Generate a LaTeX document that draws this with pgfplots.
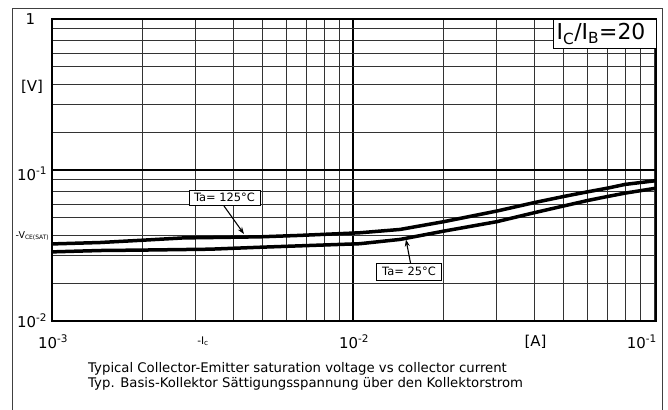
\documentclass[border=0pt]{standalone}
\usepackage{fontspec}
\setmainfont{DejaVu Sans}
\usepackage{pgfplots}
\pgfplotsset{compat=1.18}
\usetikzlibrary{arrows.meta}
\begin{document}
\begin{tikzpicture}
\begin{axis}[
  scale only axis, width=603.7bp, height=302bp,
  xmode=log, ymode=log,
  xmin=1e-3, xmax=0.1013, ymin=1e-2, ymax=1,
  xtick={1e-3,1e-2}, ytick={1e-2,1e-1,1},
  minor xtick={2e-3,3e-3,4e-3,5e-3,6e-3,7e-3,8e-3,9e-3,2e-2,3e-2,4e-2,5e-2,6e-2,7e-2,8e-2,9e-2,1e-1},
  minor ytick={0.0178,0.027,0.0368,0.0483,0.0595,0.072,0.086,0.178,0.27,0.368,0.483,0.595,0.72,0.86},
  xticklabels={}, yticklabels={},
  grid=both,
  major grid style={line width=1.8bp, black},
  minor grid style={line width=0.9bp, black!80},
  axis line style={line width=2.2bp, black},
  major tick length=0pt, minor tick length=0pt,
]
% Ta = 125 C
\addplot[line width=3.5bp, black] coordinates {
  (1e-3,0.0324) (1.44e-3,0.0331) (2e-3,0.0343) (2.72e-3,0.0355) (4.9e-3,0.0361)
  (6.65e-3,0.0369) (1.05e-2,0.0384) (1.43e-2,0.0404) (2e-2,0.0455) (3e-2,0.0535)
  (4e-2,0.0609) (5e-2,0.0668) (6e-2,0.0717) (7e-2,0.0759) (8e-2,0.0803) (0.1013,0.0850)
};
% Ta = 25 C
\addplot[line width=3.5bp, black] coordinates {
  (1e-3,0.0287) (1.44e-3,0.0293) (2e-3,0.0295) (3.34e-3,0.0299) (4.9e-3,0.0308)
  (1.05e-2,0.0325) (1.43e-2,0.0347) (2e-2,0.0394) (3e-2,0.0455) (4e-2,0.0522)
  (5e-2,0.0578) (6e-2,0.0628) (7e-2,0.0668) (8e-2,0.0703) (0.1013,0.0758)
};
\end{axis}
\pgfresetboundingbox
\begin{scope}[shift={(-52.3bp,321bp)}, x=1bp, y=-1bp]
  \path[use as bounding box] (0,0) rectangle (668,409);
  \draw[line width=1.3bp, black!75] (12.5,420) -- (12.5,8.5) -- (662.5,8.5) -- (662.5,420);
  % ratio box
  \draw[line width=1bp, fill=white] (553,19) rectangle (656,48.3);
  \node[inner sep=0pt, font=\fontsize{22}{24}\selectfont] at (601,34)
    {I\textsubscript{C}/I\textsubscript{B}=20};
  % y labels
  \begin{scope}[every node/.style={inner sep=0pt, font=\fontsize{15}{17}\selectfont}]
    \node[anchor=base] at (30.5,24) {1};
    \node[anchor=base west] at (17,180) {10\textsuperscript{-1}};
    \node[anchor=base west] at (17,327) {10\textsuperscript{-2}};
    \node[anchor=base] at (32,91) {[V]};
    \node[anchor=base west] at (38,348) {10\textsuperscript{-3}};
    \node[anchor=base west] at (339,348) {10\textsuperscript{-2}};
    \node[anchor=base east] at (657,348) {10\textsuperscript{-1}};
    \node[anchor=base] at (535.5,346) {[A]};
  \end{scope}
  \node[inner sep=0pt, anchor=base, font=\fontsize{10.5}{12}\selectfont] at (203,344) {-I\textsubscript{c}};
  \node[inner sep=0pt, anchor=base, font=\fontsize{9.5}{11}\selectfont] at (32.5,238)
    {-V\textsubscript{\fontsize{6}{7}\selectfont CE(SAT)}};
  % temperature labels
  \draw[line width=0.9bp, fill=white] (189,190) rectangle (260,205);
  \node[inner sep=0pt, font=\fontsize{11.5}{13}\selectfont] at (224.5,197.8) {Ta= 125°C};
  \draw[line width=1.1bp, -{Stealth[length=7bp,width=5bp]}] (224,206) -- (244,234);
  \draw[line width=0.9bp, fill=white] (376,263.3) rectangle (441.7,280);
  \node[inner sep=0pt, font=\fontsize{11.5}{13}\selectfont] at (409,271.8) {Ta= 25°C};
  \draw[line width=1.1bp, -{Stealth[length=7bp,width=5bp]}] (410.5,263) -- (406,239.5);
  % captions
  \begin{scope}[every node/.style={inner sep=0pt, anchor=base west, font=\fontsize{13.3}{15}\selectfont}]
    \node at (88,372) {Typical Collector-Emitter saturation voltage vs collector current};
    \node at (88,387) {Typ. Basis-Kollektor Sättigungsspannung über den Kollektorstrom};
  \end{scope}
\end{scope}
\end{tikzpicture}
\end{document}
